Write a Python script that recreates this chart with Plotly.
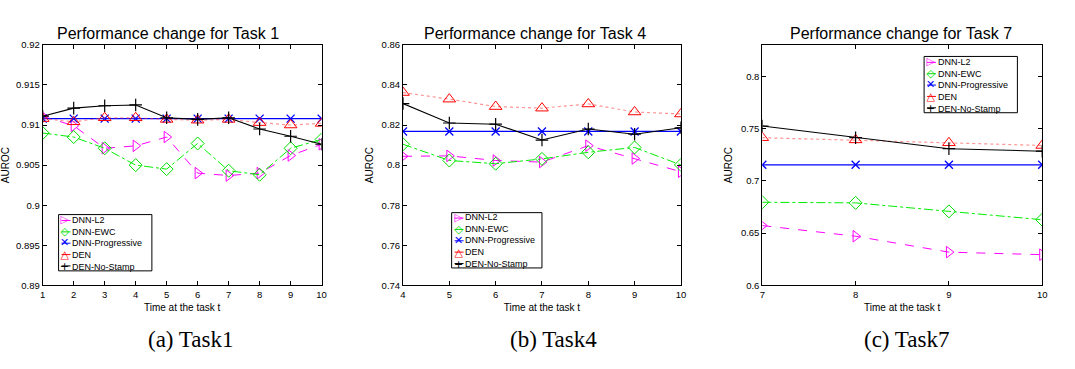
import plotly.graph_objects as go

series_names = ["DNN-L2", "DNN-EWC", "DNN-Progressive", "DEN", "DEN-No-Stamp"]

# Task 1
t1_x = [1, 2, 3, 4, 5, 6, 7, 8, 9, 10]
t1_l2 = [0.9111, 0.9099, 0.9071, 0.9074, 0.9085, 0.9040, 0.9037, 0.9040, 0.9062, 0.9076]
t1_ewc = [0.9090, 0.9085, 0.9071, 0.9050, 0.9045, 0.9077, 0.9043, 0.9038, 0.9071, 0.9082]
t1_prog = [0.9108] * 10
t1_den = [0.9108, 0.9104, 0.9109, 0.9109, 0.9107, 0.9106, 0.9107, 0.9103, 0.9100, 0.9102]
t1_nostamp = [0.9111, 0.9121, 0.9124, 0.9125, 0.9109, 0.9107, 0.9109, 0.9095, 0.9086, 0.9076]

# Task 4
t4_x = [4, 5, 6, 7, 8, 9, 10]
t4_l2 = [0.8044, 0.8046, 0.8023, 0.8015, 0.8097, 0.8033, 0.7967]
t4_ewc = [0.8104, 0.8023, 0.8007, 0.8031, 0.8064, 0.8088, 0.8001]
t4_prog = [0.8168] * 7
t4_den = [0.8362, 0.8329, 0.8292, 0.8284, 0.8305, 0.8265, 0.8255]
t4_nostamp = [0.8307, 0.8210, 0.8204, 0.8125, 0.8180, 0.8154, 0.8186]

# Task 7
t7_x = [7, 8, 9, 10]
t7_l2 = [0.6572, 0.6470, 0.6318, 0.6294]
t7_ewc = [0.6795, 0.6789, 0.6708, 0.6628]
t7_prog = [0.7153] * 4
t7_den = [0.7412, 0.7391, 0.7363, 0.7338]
t7_nostamp = [0.7524, 0.7412, 0.7307, 0.7283]

t1_yticks = [0.89, 0.895, 0.9, 0.905, 0.91, 0.915, 0.92]
t1_yticktext = ["0.89", "0.895", "0.9", "0.905", "0.91", "0.915", "0.92"]
t4_yticks = [0.74, 0.76, 0.78, 0.8, 0.82, 0.84, 0.86]
t4_yticktext = ["0.74", "0.76", "0.78", "0.8", "0.82", "0.84", "0.86"]
t7_yticks = [0.6, 0.65, 0.7, 0.75, 0.8]
t7_yticktext = ["0.6", "0.65", "0.7", "0.75", "0.8"]

titles = ["Performance change for Task 1", "Performance change for Task 4", "Performance change for Task 7"]
captions = ["(a) Task1", "(b) Task4", "(c) Task7"]

colors = ["#ff00ff", "#00dd00", "#0000ff", "#ff0000", "#000000"]
legend_glyphs = ["\u25B7", "\u25C7", "\u2715", "\u25B3", "+"]

styles = [
    dict(line=dict(color="#ff00ff", width=1, dash="dash"),
         marker=dict(symbol="triangle-right-open", size=10, color="#ff00ff", line=dict(width=1))),
    dict(line=dict(color="#00ee00", width=1, dash="dashdot"),
         marker=dict(symbol="diamond-open", size=10, color="#00dd00", line=dict(width=1))),
    dict(line=dict(color="#0000ff", width=1.3),
         marker=dict(symbol="x-thin-open", size=8, color="#0000ff", line=dict(width=1.3))),
    dict(line=dict(color="rgba(255,60,60,0.55)", width=1.2, dash="dot"),
         marker=dict(symbol="triangle-up-open", size=11, color="#ff0000", line=dict(width=1))),
    dict(line=dict(color="#000000", width=1.1),
         marker=dict(symbol="cross-thin-open", size=9, color="#000000", line=dict(width=1.2))),
]

panels = [
    (t1_x, [t1_l2, t1_ewc, t1_prog, t1_den, t1_nostamp]),
    (t4_x, [t4_l2, t4_ewc, t4_prog, t4_den, t4_nostamp]),
    (t7_x, [t7_l2, t7_ewc, t7_prog, t7_den, t7_nostamp]),
]

fig = go.Figure()
axsuffix = ["", "2", "3"]
for p, (xs, ys_list) in enumerate(panels):
    for s, ys in enumerate(ys_list):
        fig.add_trace(go.Scatter(
            x=xs, y=ys, name=series_names[s], mode="lines+markers",
            xaxis="x" + axsuffix[p], yaxis="y" + axsuffix[p],
            showlegend=False, **styles[s]))

W, H = 1075, 369
xdoms = [(40 / W, 321 / W), (403 / W, 683 / W), (765 / W, 1047 / W)]
ydom = (1 - 288 / H, 1 - 40 / H)
yranges = [(0.89, 0.92), (0.74, 0.86), (0.6, 0.83)]
yticks = [(t1_yticks, t1_yticktext), (t4_yticks, t4_yticktext), (t7_yticks, t7_yticktext)]
xranges = [(1, 10), (4, 10), (7, 10)]

font_fam = "Liberation Sans, Arial, sans-serif"
axis_common = dict(showline=True, linecolor="black", linewidth=1, mirror="allticks",
                   ticks="inside", ticklen=4, tickcolor="black", showgrid=False,
                   zeroline=False, tickfont=dict(size=9.5, family=font_fam, color="black"))

layout = dict(width=W, height=H, margin=dict(l=0, r=0, t=0, b=0),
              paper_bgcolor="white", plot_bgcolor="white",
              font=dict(family=font_fam, color="black"), showlegend=False)

for p in range(3):
    xk = "xaxis" + axsuffix[p]
    yk = "yaxis" + axsuffix[p]
    layout[xk] = dict(domain=list(xdoms[p]), range=list(xranges[p]), dtick=1,
                      anchor="y" + axsuffix[p],
                      title=dict(text="Time at the task t", font=dict(size=10), standoff=5),
                      **axis_common)
    layout[yk] = dict(domain=list(ydom), range=list(yranges[p]),
                      tickvals=yticks[p][0], ticktext=yticks[p][1],
                      anchor="x" + axsuffix[p],
                      title=dict(text="AUROC", font=dict(size=10), standoff=6),
                      **axis_common)

annotations = []
shapes = []
title_cx = [166, 536, 905]
cap_cx = [189, 555, 910]
for p in range(3):
    annotations.append(dict(text=titles[p], x=title_cx[p] / W, y=1 - 28 / H, xref="paper", yref="paper",
                            showarrow=False, xanchor="center", yanchor="middle",
                            font=dict(size=16, family=font_fam, color="black")))
    annotations.append(dict(text=captions[p], x=cap_cx[p] / W, y=1 - 344 / H, xref="paper", yref="paper",
                            showarrow=False, xanchor="center", yanchor="middle",
                            font=dict(size=23, family="Liberation Serif, Times New Roman, serif", color="black")))

# hand-made compact legends: box, short line stubs, one block of coloured glyphs, one block of labels
leg_boxes = [(56, 215, 150, 273), (452, 213, 543, 270), (928, 52, 1022, 110)]
glyph_block = "<br>".join('<span style="color:%s;font-size:11px">%s</span>' % (c, g)
                          for c, g in zip(colors, legend_glyphs))
label_block = "<br>".join(series_names)
row_step = 9 * 1.3
for (x0, y0, x1, y1) in leg_boxes:
    shapes.append(dict(type="rect", xref="paper", yref="paper",
                       x0=x0 / W, x1=x1 / W, y0=1 - y0 / H, y1=1 - y1 / H,
                       line=dict(color="black", width=1), fillcolor="white", layer="above"))
    cy = (y0 + y1) / 2.0 + 0.5
    for s in range(5):
        ry = cy + (s - 2) * row_step
        shapes.append(dict(type="line", xref="paper", yref="paper",
                           x0=(x0 + 3) / W, x1=(x0 + 12) / W, y0=1 - ry / H, y1=1 - ry / H,
                           line=dict(color=colors[s], width=1), layer="above"))
    annotations.append(dict(text=glyph_block, x=(x0 + 12) / W, y=1 - cy / H, xref="paper", yref="paper",
                            showarrow=False, xanchor="right", yanchor="middle", align="center",
                            borderpad=0, font=dict(size=9, family="DejaVu Sans", color="black")))
    annotations.append(dict(text=label_block, x=(x0 + 12.5) / W, y=1 - cy / H, xref="paper", yref="paper",
                            showarrow=False, xanchor="left", yanchor="middle", align="left",
                            borderpad=0, font=dict(size=9, family=font_fam, color="black")))

layout["annotations"] = annotations
layout["shapes"] = shapes

fig.update_layout(**layout)
fig.write_html("out.html", config={"displayModeBar": False},
               post_script="document.body.style.margin='0';document.body.style.overflow='hidden';")
